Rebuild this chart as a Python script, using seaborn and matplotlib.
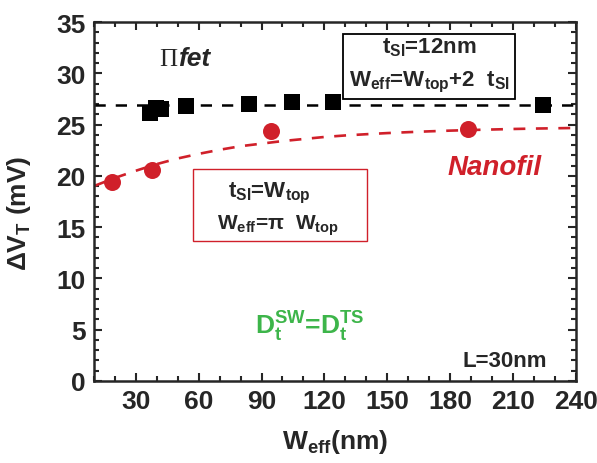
import matplotlib
matplotlib.use("Agg")
import matplotlib.pyplot as plt
import pandas as pd
import seaborn as sns
from matplotlib.patches import Rectangle
from matplotlib.ticker import MultipleLocator

# Pi-FET (black squares) and nanowire (red circles)
pifet_w = [36.7, 39.6, 42.3, 54.2, 84.1, 104.3, 123.9, 224.1]
pifet_dvt = [26.1, 26.6, 26.5, 26.8, 27.0, 27.2, 27.2, 26.9]
nano_w = [18.9, 37.8, 94.3, 188.6]
nano_dvt = [19.4, 20.6, 24.4, 24.6]

# dashed guide lines
level_w = [10, 240]
level_dvt = [26.9, 26.9]
fit_w = [10, 20, 30, 40, 50, 60, 70, 80, 90, 100, 110, 120, 130, 140, 150,
         160, 170, 180, 190, 200, 210, 220, 230, 240]
fit_dvt = [19.0, 19.8, 20.5, 21.15, 21.7, 22.15, 22.55, 22.9, 23.15, 23.4,
           23.6, 23.8, 23.95, 24.07, 24.18, 24.27, 24.35, 24.42, 24.48, 24.53,
           24.58, 24.62, 24.65, 24.68]

x_ticks = [30, 60, 90, 120, 150, 180, 210, 240]
y_ticks = [0, 5, 10, 15, 20, 25, 30, 35]

RED = "#d0202a"
GREEN = "#3db54a"

sns.set_style("ticks")
plt.rcParams["font.family"] = ["Liberation Sans", "DejaVu Sans"]
plt.rcParams["font.weight"] = "bold"
plt.rcParams["mathtext.fontset"] = "custom"
plt.rcParams["mathtext.rm"] = "Liberation Sans:bold"
plt.rcParams["mathtext.it"] = "Liberation Sans:bold:italic"
plt.rcParams["mathtext.bf"] = "Liberation Sans:bold"

fig = plt.figure(figsize=(5.97, 4.64), dpi=100)
ax = fig.add_axes([0.157, 0.177, 0.808, 0.773])

pifet = pd.DataFrame({"w": pifet_w, "dvt": pifet_dvt})
nano = pd.DataFrame({"w": nano_w, "dvt": nano_dvt})
level = pd.DataFrame({"w": level_w, "dvt": level_dvt})
fit = pd.DataFrame({"w": fit_w, "dvt": fit_dvt})

sns.lineplot(data=level, x="w", y="dvt", ax=ax, color="black", lw=1.8,
             zorder=2)
sns.lineplot(data=fit, x="w", y="dvt", ax=ax, color=RED, lw=1.9,
             zorder=2)
for ln in ax.lines:
    ln.set_dashes((4.5, 4.0))
sns.scatterplot(data=pifet, x="w", y="dvt", ax=ax, marker="s", s=120,
                color="black", edgecolor="black", linewidth=0, zorder=3)
sns.scatterplot(data=nano, x="w", y="dvt", ax=ax, marker="o", s=150,
                color=RED, edgecolor=RED, linewidth=0, zorder=3)

ax.set_xlim(10, 240)
ax.set_ylim(0, 35)
ax.set_xticks(x_ticks)
ax.set_yticks(y_ticks)
ax.xaxis.set_minor_locator(MultipleLocator(10))
ax.yaxis.set_minor_locator(MultipleLocator(1))
ax.tick_params(which="both", direction="in", top=True, right=True, width=1.5)
ax.tick_params(which="major", length=6, labelsize=19, pad=6)
ax.tick_params(which="minor", length=3.5)
for lab in ax.get_xticklabels() + ax.get_yticklabels():
    lab.set_fontweight("bold")
for sp in ax.spines.values():
    sp.set_linewidth(1.8)

ax.set_xlabel(r"W$_{\mathregular{eff}}$(nm)", fontsize=19, fontweight="bold")
ax.set_ylabel(r"$\Delta$V$_{\mathregular{T}}$ (mV)", fontsize=19, fontweight="bold")
ax.xaxis.set_label_coords(0.5, -0.13)
ax.yaxis.set_label_coords(-0.125, 0.47)

# annotations
ax.text(50.0, 30.8, "\u03a0", family="Liberation Serif", fontweight="normal",
        fontsize=18, ha="right", va="baseline")
ax.text(50.4, 30.8, "fet", fontsize=19, fontstyle="italic", fontweight="bold",
        ha="left", va="baseline")

ax.add_patch(Rectangle((0.517, 0.786), 0.356, 0.181, transform=ax.transAxes,
                       fill=True, fc="white", ec="black", lw=1.3, zorder=4))
ax.text(0.695, 0.915, r"t$_{\mathregular{SI}}$=12nm", transform=ax.transAxes,
        fontsize=16, ha="center", va="baseline", zorder=5)
ax.text(0.695, 0.825, r"W$_{\mathregular{eff}}$=W$_{\mathregular{top}}$+2  t$_{\mathregular{SI}}$",
        transform=ax.transAxes, fontsize=16, ha="center", va="baseline", zorder=5)

ax.add_patch(Rectangle((0.205, 0.390), 0.361, 0.201, transform=ax.transAxes,
                       fill=False, ec=RED, lw=1.0, zorder=4))
ax.text(0.365, 0.515, r"t$_{\mathregular{SI}}$=W$_{\mathregular{top}}$",
        transform=ax.transAxes, fontsize=16, ha="center", va="baseline")
ax.text(0.383, 0.425, r"W$_{\mathregular{eff}}$=π  W$_{\mathregular{top}}$",
        transform=ax.transAxes, fontsize=15, ha="center", va="baseline")

ax.text(178.5, 20.2, "Nanofil", color=RED, fontsize=20, fontstyle="italic",
        fontweight="bold", ha="left", va="baseline")
ax.text(86.8, 4.6, r"D$_{\mathregular{t}}^{\mathregular{SW}}$=D$_{\mathregular{t}}^{\mathregular{TS}}$",
        color=GREEN, fontsize=19, ha="left", va="baseline")
ax.text(186.0, 1.45, "L=30nm", fontsize=16, ha="left", va="baseline")

fig.savefig("out.png", dpi=100)
